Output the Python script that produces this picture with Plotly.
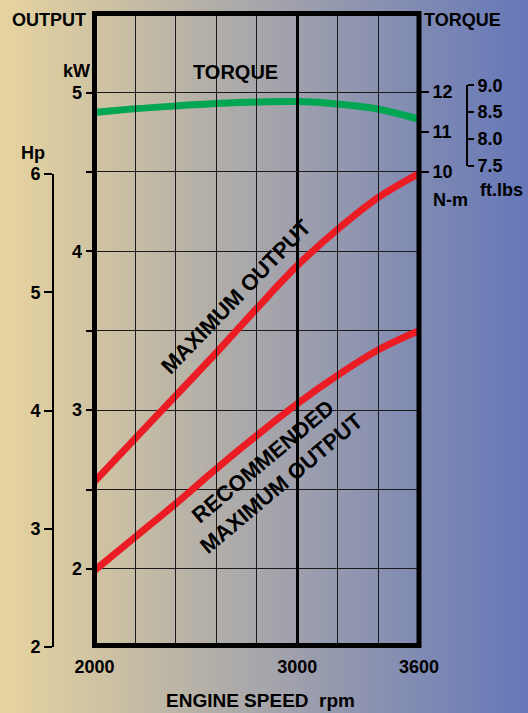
import plotly.graph_objects as go

# ---------------- data ----------------
rpm = [2000, 2200, 2400, 2600, 2800, 3000, 3200, 3400, 3600]
max_output_kw = [2.55, 2.82, 3.09, 3.36, 3.64, 3.91, 4.14, 4.34, 4.49]
recommended_kw = [1.99, 2.20, 2.41, 2.63, 2.84, 3.04, 3.22, 3.38, 3.50]
torque_nm = [11.49, 11.58, 11.65, 11.71, 11.75, 11.76, 11.70, 11.57, 11.32]

x_ticks = [2000, 3000, 3600]
x_minor = [2200, 2400, 2600, 2800, 3200, 3400]
kw_ticks = [2, 2.5, 3, 3.5, 4, 4.5, 5]
kw_labels = ["2", "", "3", "", "4", "", "5"]
hp_ticks = [2, 3, 4, 5, 6]
nm_ticks = [10, 11, 12]
ftlb_ticks = [7.5, 8.0, 8.5, 9.0]
ftlb_labels = ["7.5", "8.0", "8.5", "9.0"]

W, H = 528, 713
RED = "#ec1c24"
GREEN = "#00a651"
FONT = "Liberation Sans, Arial, sans-serif"


def px(x):
    return x / W


def py(y):
    return 1 - y / H


tick_font = dict(family=FONT, size=18, color="black", weight="bold")

fig = go.Figure()

fig.add_trace(go.Scatter(x=rpm, y=max_output_kw, mode="lines",
                         line=dict(color=RED, width=7, shape="spline", smoothing=1.0),
                         xaxis="x", yaxis="y", showlegend=False, hoverinfo="skip"))
fig.add_trace(go.Scatter(x=rpm, y=recommended_kw, mode="lines",
                         line=dict(color=RED, width=7, shape="spline", smoothing=1.0),
                         xaxis="x", yaxis="y", showlegend=False, hoverinfo="skip"))
fig.add_trace(go.Scatter(x=rpm, y=torque_nm, mode="lines",
                         line=dict(color=GREEN, width=7, shape="spline", smoothing=1.0),
                         xaxis="x", yaxis="y2", showlegend=False, hoverinfo="skip"))
# carriers for the auxiliary scales
fig.add_trace(go.Scatter(x=[rpm[0], rpm[0]], y=[hp_ticks[0], hp_ticks[-1]], mode="markers",
                         marker=dict(opacity=0), xaxis="x", yaxis="y3",
                         showlegend=False, hoverinfo="skip"))
fig.add_trace(go.Scatter(x=[rpm[0], rpm[0]], y=[ftlb_ticks[0], ftlb_ticks[-1]], mode="markers",
                         marker=dict(opacity=0), xaxis="x", yaxis="y4",
                         showlegend=False, hoverinfo="skip"))

x0p, x1p = 94.5, 419.0
y_top, y_bot = 13.5, 645.5
kw5_px, kw_per = 92.5, 158.8
kw_range = [5 - (y_bot - kw5_px) / kw_per, 5 + (kw5_px - y_top) / kw_per]
nm12_px, nm_per = 92.0, 40.0
nm_range = [12 - (y_bot - nm12_px) / nm_per, 12 + (nm12_px - y_top) / nm_per]

# gradient background
shapes = []
N = 132
c0 = (231, 212, 158)
c1 = (101, 119, 184)
for i in range(N):
    t = (i + 0.5) / N
    c = tuple(int(round(c0[k] + (c1[k] - c0[k]) * t)) for k in range(3))
    shapes.append(dict(type="rect", xref="paper", yref="paper",
                       x0=i / N, x1=(i + 1) / N + 0.002, y0=0, y1=1,
                       fillcolor="rgb(%d,%d,%d)" % c, line=dict(width=0), layer="below"))
# frame
shapes.append(dict(type="rect", xref="x domain", yref="y domain", x0=0, x1=1, y0=0, y1=1,
                   line=dict(color="black", width=5), layer="above"))

fig.update_layout(
    template="none",
    width=W, height=H, autosize=False,
    margin=dict(l=0, r=0, t=0, b=0, pad=0),
    paper_bgcolor="rgb(231,212,158)",
    plot_bgcolor="rgba(0,0,0,0)",
    shapes=shapes,
    xaxis=dict(domain=[px(x0p), px(x1p)], range=[2000, 3600], automargin=False,
               tickvals=x_ticks, ticktext=[str(v) for v in x_ticks],
               ticks="", ticklabelstandoff=8, tickfont=tick_font,
               showgrid=True, gridcolor="black", gridwidth=3,
               minor=dict(tickvals=x_minor, showgrid=True, gridcolor="#1a1a1a",
                          gridwidth=1.3, ticks=""),
               zeroline=False, showline=False, fixedrange=True),
    yaxis=dict(domain=[py(y_bot), py(y_top)], range=kw_range, automargin=False,
               tickvals=kw_ticks, ticktext=kw_labels, ticks="outside",
               ticklen=8, tickwidth=2, tickcolor="black", tickfont=tick_font,
               showgrid=True, gridcolor="#1a1a1a", gridwidth=1.3,
               zeroline=False, showline=False),
    yaxis2=dict(overlaying="y", side="right", anchor="x", range=nm_range, automargin=False,
                tickvals=nm_ticks, ticks="outside", ticklen=9, tickwidth=2,
                tickcolor="black", tickfont=tick_font, showgrid=False,
                zeroline=False, showline=False),
    yaxis3=dict(domain=[py(647), py(174)], range=[2, 6], anchor="free", automargin=False,
                position=px(53), side="left", tickvals=hp_ticks, ticks="outside",
                ticklen=8, tickwidth=2, tickcolor="black", tickfont=tick_font,
                showline=True, linewidth=2, linecolor="black",
                showgrid=False, zeroline=False),
    yaxis4=dict(domain=[py(165.7), py(85.3)], range=[7.5, 9.0], anchor="free", automargin=False,
                position=px(467), side="right", tickvals=ftlb_ticks, ticktext=ftlb_labels,
                ticks="outside", ticklen=6, tickwidth=2, tickcolor="black",
                tickfont=tick_font, showline=True, linewidth=2, linecolor="black",
                showgrid=False, zeroline=False),
)

big = dict(family=FONT, size=18, color="black", weight="bold")
inplot = dict(family=FONT, size=22, color="black", weight="bold")
ann = [
    dict(text="OUTPUT", x=px(49), y=py(20), font=big),
    dict(text="kW", x=px(76), y=py(71), font=big),
    dict(text="Hp", x=px(33), y=py(153), font=big),
    dict(text="TORQUE", x=px(462), y=py(20), font=big),
    dict(text="N-m", x=px(450), y=py(200), font=big),
    dict(text="ft.lbs", x=px(501), y=py(190), font=big),
    dict(text="ENGINE SPEED&nbsp;&nbsp;rpm", x=px(260), y=py(700), font=dict(big, size=19)),
]
for a in ann:
    fig.add_annotation(xref="paper", yref="paper", showarrow=False,
                       xanchor="center", yanchor="middle", **a)

fig.add_annotation(x=2695, y=5.126, xref="x", yref="y", text="TORQUE", showarrow=False,
                   font=dict(inplot, size=20))
fig.add_annotation(x=2699, y=3.714, xref="x", yref="y", text="MAXIMUM OUTPUT",
                   showarrow=False, textangle=-46, font=inplot)
fig.add_annotation(x=2880, y=2.61, xref="x", yref="y", text="RECOMMENDED<br>MAXIMUM OUTPUT",
                   showarrow=False, textangle=-40, font=inplot)

fig.write_html(
    "out.html",
    config={"displayModeBar": False},
    post_script="document.body.style.margin='0';document.body.style.overflow='hidden';",
)
